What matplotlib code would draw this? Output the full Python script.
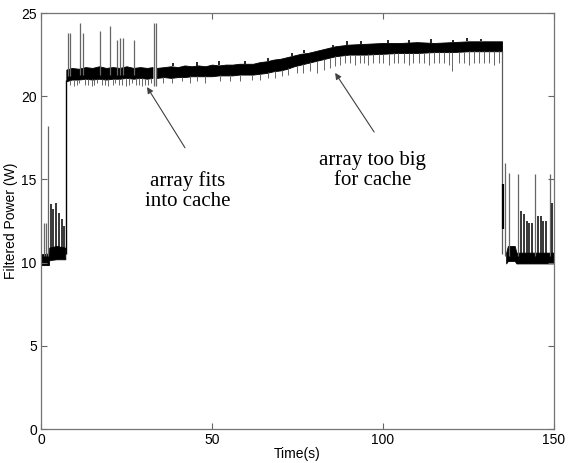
import numpy as np
import matplotlib
matplotlib.use("Agg")
import matplotlib.pyplot as plt

# power trace, described as band envelopes (time s, low W, high W)
idle_start_t = [0.0, 2.3, 2.4, 4.5, 7.1]
idle_start_lo = [9.85, 9.85, 10.15, 10.2, 10.2]
idle_start_hi = [10.5, 10.55, 10.9, 11.0, 10.9]

fit_t = [7.4, 9, 11, 13, 15, 17, 19, 21, 23, 25, 27, 29, 31, 32.6]
fit_lo = [20.9, 21.0, 21.0, 21.05, 21.0, 21.05, 21.0, 21.05, 21.05, 21.1, 21.05, 21.1, 21.05, 21.1]
fit_hi = [21.6, 21.7, 21.65, 21.75, 21.7, 21.8, 21.7, 21.75, 21.7, 21.8, 21.7, 21.75, 21.7, 21.75]

big_t = [33.8, 36, 38, 40, 42, 44, 46, 48, 50, 52, 54, 56, 58, 60, 62, 64, 66,
         68, 70, 72, 74, 76, 78, 80, 82, 84, 86, 88, 90, 95, 100, 105, 110,
         115, 120, 125, 130, 134.8]
big_lo = [21.1, 21.15, 21.1, 21.15, 21.15, 21.2, 21.2, 21.2, 21.2, 21.25, 21.25,
          21.25, 21.3, 21.3, 21.3, 21.35, 21.4, 21.5, 21.55, 21.65, 21.8, 21.9,
          22.0, 22.1, 22.2, 22.3, 22.4, 22.45, 22.5, 22.5, 22.55, 22.6, 22.6,
          22.65, 22.65, 22.7, 22.7, 22.7]
big_hi = [21.7, 21.75, 21.8, 21.75, 21.85, 21.8, 21.85, 21.8, 21.9, 21.85, 21.9,
          21.9, 21.95, 21.95, 21.95, 22.05, 22.1, 22.2, 22.25, 22.35, 22.45, 22.55,
          22.6, 22.7, 22.8, 22.9, 23.0, 23.05, 23.1, 23.15, 23.2, 23.2, 23.25,
          23.2, 23.25, 23.3, 23.3, 23.3]

idle_end_t = [136.0, 136.5, 138.5, 139.0, 150.0]
idle_end_lo = [9.95, 10.1, 10.1, 9.95, 9.95]
idle_end_hi = [10.6, 11.0, 11.0, 10.6, 10.6]

# step edges between idle and busy
rise_t = 7.3
rise_lo, rise_hi = 10.5, 21.0
drop_t = 134.9
drop_lo, drop_hi = 10.5, 22.7
drop_burst_t = 135.2
drop_burst_lo, drop_burst_hi = 12.0, 14.7

# tall upward spikes (time, base, peak)
spike_t = [0.8, 1.4, 2.0, 7.9, 8.4, 11.5, 12.2, 17.3, 20.2, 22.2, 23.1, 24.1,
           27.2, 32.9, 33.6, 135.7, 136.8, 139.6, 144.5, 148.9]
spike_base = [10.4, 10.4, 10.4, 21.2, 21.2, 21.3, 21.3, 21.3, 21.3, 21.3, 21.3,
              21.3, 21.3, 20.6, 20.6, 10.4, 10.4, 10.4, 10.4, 10.4]
spike_top = [12.4, 12.4, 18.2, 23.8, 23.8, 24.4, 23.8, 23.9, 24.2, 23.4, 23.5,
             23.5, 23.4, 24.4, 24.4, 16.0, 15.4, 15.3, 15.3, 15.3]

# short dark bursts inside the idle periods
burst_t = [2.8, 3.5, 4.4, 5.4, 6.1, 6.6, 140.2, 141.2, 142.0, 142.8, 143.5,
           145.4, 146.2, 146.9, 147.7, 149.3]
burst_top = [13.5, 13.2, 13.6, 13.0, 12.6, 12.2, 13.1, 12.9, 12.5, 12.4, 12.4,
             12.8, 12.8, 12.5, 12.5, 13.6]

# downward dips below the busy band
dip_t = [8.6, 9.5, 10.4, 11.0, 12.9, 13.8, 14.8, 15.6, 16.5, 17.9, 18.8, 19.6,
         20.9, 21.7, 22.7, 23.6, 24.7, 25.6, 26.5, 27.8, 28.7, 29.6, 30.5, 31.4,
         32.2, 35.8, 38.2, 41.1, 43.6, 45.5, 48.0, 52.3, 55.3, 58.2, 61.6, 64.0,
         66.5, 68.4, 70.4, 72.3, 74.8, 76.7, 78.7, 80.6, 82.6, 84.5, 86.0, 87.4,
         88.9, 90.4, 91.8, 93.3, 94.3, 95.7, 97.2, 98.7, 100.1, 101.6, 103.1,
         104.5, 106.0, 107.5, 108.9, 110.4, 111.9, 113.3, 114.8, 116.3, 117.7,
         119.2, 120.1, 122.1, 123.6, 125.1, 126.5, 128.0, 129.5, 130.9, 132.4,
         133.8]
dip_bottom = [20.7, 20.6, 20.7, 20.8, 20.7, 20.7, 20.6, 20.7, 20.8, 20.7, 20.7,
              20.6, 20.7, 20.8, 20.7, 20.7, 20.6, 20.7, 20.8, 20.7, 20.7, 20.6,
              20.7, 20.7, 20.8, 20.8, 20.8, 20.9, 20.8, 20.9, 20.8, 20.9, 20.9,
              20.9, 21.0, 21.0, 21.1, 21.1, 21.2, 21.3, 21.4, 21.4, 21.5, 21.4,
              21.6, 21.7, 21.8, 21.9, 22.0, 22.0, 21.9, 22.0, 22.0, 21.9, 22.0,
              22.0, 22.0, 21.9, 22.0, 22.0, 22.0, 21.9, 22.0, 22.0, 22.0, 21.9,
              22.0, 22.0, 22.0, 21.9, 21.5, 22.0, 22.0, 21.9, 22.0, 22.0, 22.0,
              22.0, 21.9, 22.0]

# small bumps on top of the busy band
bump_t = [38.5, 45.5, 52.0, 59.5, 66.5, 73.5, 77.0, 85.5, 89.5, 93.5, 101.5,
          107.5, 114.0, 120.5, 124.5, 128.5]
bump_top = [22.0, 22.05, 22.1, 22.1, 22.3, 22.6, 22.8, 23.1, 23.3, 23.3, 23.4,
            23.4, 23.45, 23.4, 23.5, 23.45]

fig = plt.figure(figsize=(5.69, 4.63), dpi=100)
ax = fig.add_axes([0.0721, 0.0734, 0.9016, 0.8985])

for t, lo, hi in [(idle_start_t, idle_start_lo, idle_start_hi),
                  (fit_t, fit_lo, fit_hi),
                  (big_t, big_lo, big_hi),
                  (idle_end_t, idle_end_lo, idle_end_hi)]:
    ax.fill_between(t, lo, hi, color="black", lw=0.6, edgecolor="black")

ax.vlines([rise_t], rise_lo, rise_hi, color="black", lw=1.0)
ax.vlines([drop_t], drop_lo, drop_hi, color="0.35", lw=0.9)
ax.vlines([drop_burst_t], drop_burst_lo, drop_burst_hi, color="black", lw=1.6)

ax.vlines(spike_t, spike_base, spike_top, color="0.4", lw=0.9)
ax.vlines(burst_t, [10.4] * len(burst_t), burst_top, color="black", lw=1.1)
dip_base = np.interp(dip_t, fit_t + big_t, fit_lo + big_lo)
ax.vlines(dip_t, dip_bottom, dip_base, color="0.4", lw=0.7)
bump_base = np.interp(bump_t, big_t, big_hi)
ax.vlines(bump_t, bump_base, bump_top, color="black", lw=1.2)

ax.set_xlim(0, 150)
ax.set_ylim(0, 25)
ax.set_xticks([0, 50, 100, 150])
ax.set_yticks([0, 5, 10, 15, 20, 25])
ax.tick_params(direction="in", length=4, width=0.8, color="0.4",
               labelsize=10, top=True, right=True, pad=3)
for lab in ax.get_xticklabels() + ax.get_yticklabels():
    lab.set_family("Liberation Sans")
for s in ax.spines.values():
    s.set_color("0.45")
    s.set_linewidth(0.9)
ax.set_xlabel("Time(s)", fontsize=10, family="Liberation Sans", labelpad=0)
ax.set_ylabel("Filtered Power (W)", fontsize=10, family="Liberation Sans",
              labelpad=2)

arrow = dict(arrowstyle="-|>", color="0.25", lw=0.8, mutation_scale=9,
             shrinkA=0, shrinkB=0)
ax.annotate("", xy=(31.0, 20.55), xytext=(42.1, 16.9), arrowprops=arrow)
ax.annotate("", xy=(86.0, 21.4), xytext=(97.4, 17.85), arrowprops=arrow)

txt = dict(ha="center", va="center", fontsize=15, family="Liberation Serif",
           linespacing=1.1)
ax.text(43.0, 14.3, "array fits\ninto cache", **txt)
ax.text(97.0, 15.55, "array too big\nfor cache", **txt)

fig.savefig("out.png", dpi=100)
